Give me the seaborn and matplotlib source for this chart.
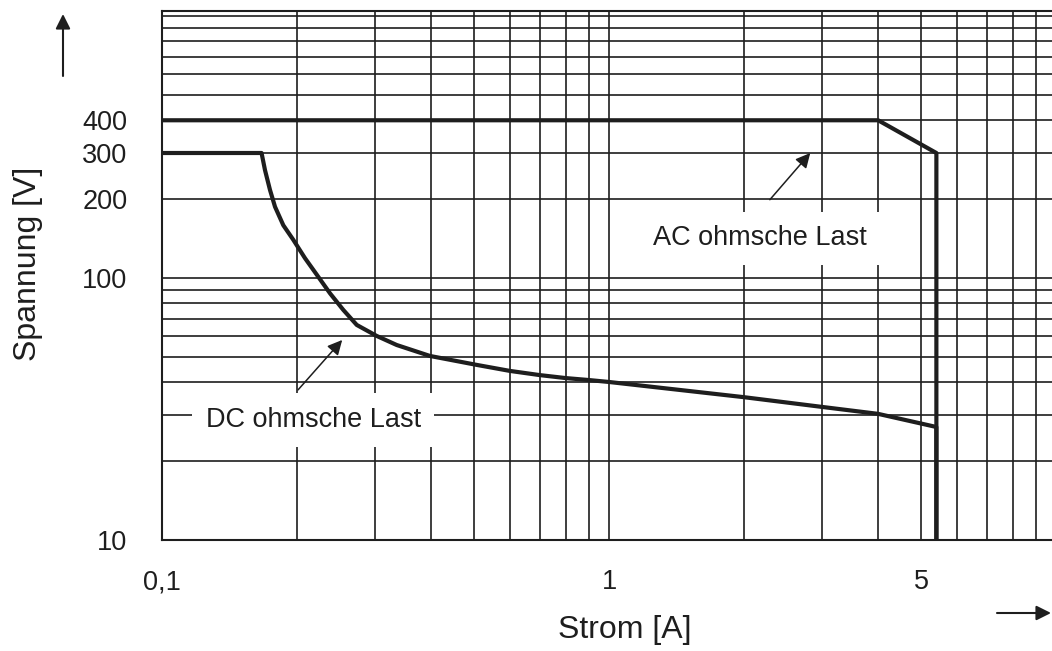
import numpy as np
import pandas as pd
import matplotlib
matplotlib.use("Agg")
import matplotlib.pyplot as plt
from matplotlib.ticker import LogLocator, FixedLocator, NullFormatter
import seaborn as sns

# ---- data ----
ac_current = [0.1, 4.0, 5.4, 5.4]
ac_voltage = [400, 400, 300, 10]

dc_current = [0.1, 0.167, 0.170, 0.1744, 0.179, 0.1868, 0.1966, 0.2089, 0.2219,
              0.2376, 0.2545, 0.2727, 0.3022, 0.335, 0.3977, 0.5058,
              0.6, 0.7, 0.8, 0.9, 1.0, 2.0, 3.0, 4.0, 5.4, 5.4]
dc_voltage = [300, 300, 258, 217, 187, 159, 140, 119, 103,
              87.4, 75.5, 66.2, 60.1, 55.5, 50.4, 46.6,
              44.2, 42.6, 41.5, 40.8, 40.1, 35.1, 32.2, 30.3, 27.0, 10]

x_ticks = [0.1, 1, 5]
x_tick_labels = ["0,1", "1", "5"]
y_ticks = [10, 100, 200, 300, 400]
y_tick_labels = ["10", "100", "200", "300", "400"]

ac_label = "AC ohmsche Last"
dc_label = "DC ohmsche Last"
x_label = "Strom [A]"
y_label = "Spannung [V]"

# ---- style ----
sns.set_style("white")
plt.rcParams["font.family"] = ["Liberation Sans", "DejaVu Sans"]
INK = "#1e1e1e"

W, H = 1052, 651
fig = plt.figure(figsize=(W / 100, H / 100), dpi=100)
left, right, top, bottom = 162, 1056, 11, 540
ax = fig.add_axes([left / W, (H - bottom) / H, (right - left) / W, (bottom - top) / H])

df_ac = pd.DataFrame({"Strom": ac_current, "Spannung": ac_voltage})
df_dc = pd.DataFrame({"Strom": dc_current, "Spannung": dc_voltage})

sns.lineplot(data=df_ac, x="Strom", y="Spannung", ax=ax, sort=False, estimator=None,
             color=INK, linewidth=3.0, zorder=3)
sns.lineplot(data=df_dc, x="Strom", y="Spannung", ax=ax, sort=False, estimator=None,
             color=INK, linewidth=3.0, zorder=3)

ax.set_xscale("log")
ax.set_yscale("log")
ax.set_xlim(0.1, 10)
ax.set_ylim(10, 1045)

ax.xaxis.set_major_locator(FixedLocator(x_ticks))
ax.set_xticklabels(x_tick_labels)
ax.xaxis.set_minor_locator(LogLocator(base=10, subs=np.arange(1, 10)))
ax.xaxis.set_minor_formatter(NullFormatter())
ax.yaxis.set_major_locator(FixedLocator(y_ticks))
ax.set_yticklabels(y_tick_labels)
ax.yaxis.set_minor_locator(LogLocator(base=10, subs=np.arange(1, 10)))
ax.yaxis.set_minor_formatter(NullFormatter())

ax.grid(True, which="both", color=INK, linewidth=1.2)
ax.set_axisbelow(True)
ax.tick_params(axis="both", which="both", length=0, labelsize=19.5, labelcolor=INK)
ax.tick_params(axis="x", pad=21)
ax.tick_params(axis="y", pad=25)
for s in ax.spines.values():
    s.set_color(INK)
    s.set_linewidth(1.5)

ax.set_xlabel(x_label, fontsize=23, color=INK)
ax.set_ylabel(y_label, fontsize=23, color=INK)
ax.xaxis.label.set_va("center")
ax.yaxis.label.set_va("center")
ax.xaxis.set_label_coords(0.518, -0.170)
ax.yaxis.set_label_coords(-0.150, 0.522)

# curve labels with white boxes
box = dict(boxstyle="square,pad=0.5", facecolor="white", edgecolor="none")
ax.text(2.18, 142, ac_label, fontsize=19.5, color=INK, ha="center", va="center",
        bbox=box, zorder=4)
ax.text(0.218, 28.7, dc_label, fontsize=19.5, color=INK, ha="center", va="center",
        bbox=box, zorder=4)

arrow_kw = dict(arrowstyle="-|>", color=INK, lw=1.1, mutation_scale=22, shrinkA=0, shrinkB=0)
ax.annotate("", xy=(2.82, 300), xytext=(2.29, 199), arrowprops=arrow_kw, zorder=5)
ax.annotate("", xy=(0.253, 58), xytext=(0.2015, 37.4), arrowprops=arrow_kw, zorder=5)

# axis direction arrows
dir_kw = dict(arrowstyle="-|>", color=INK, lw=1.5, mutation_scale=22, shrinkA=0, shrinkB=0)
ax.annotate("", xy=(63, H - 14), xytext=(63, H - 76), xycoords="figure pixels",
            textcoords="figure pixels", arrowprops=dir_kw, annotation_clip=False)
ax.annotate("", xy=(1051, H - 613), xytext=(997, H - 613), xycoords="figure pixels",
            textcoords="figure pixels", arrowprops=dir_kw, annotation_clip=False)

fig.savefig("out.png", dpi=100, facecolor="white")
